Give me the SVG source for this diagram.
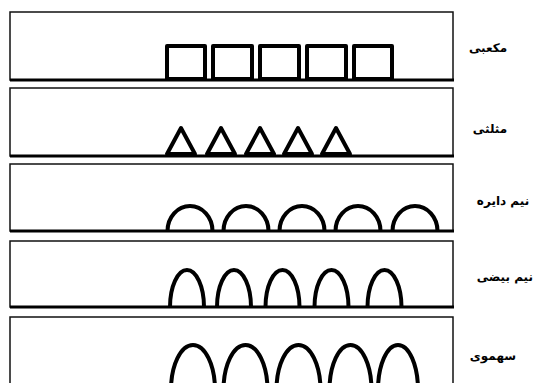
<svg xmlns="http://www.w3.org/2000/svg" width="535" height="383" viewBox="0 0 535 383">
<style>
.box{fill:none;stroke:#111;stroke-width:1.5}
.base{stroke:#000;stroke-width:3}
.sh{fill:none;stroke:#000;stroke-width:4;stroke-linejoin:round}
.lbl{font-family:"DejaVu Sans",sans-serif;font-weight:bold;font-size:12px;fill:#000;text-anchor:middle}
</style>
<rect width="535" height="383" fill="#fff"/>
<g id="row-cubic">
<rect class="box" x="10" y="12" width="443" height="68"/>
<line class="base" x1="10" y1="80" x2="454" y2="80"/>
<rect class="sh" x="167" y="46" width="38" height="33"/>
<rect class="sh" x="213" y="46" width="39" height="33"/>
<rect class="sh" x="260" y="46" width="39" height="33"/>
<rect class="sh" x="307" y="46" width="39" height="33"/>
<rect class="sh" x="354" y="46" width="38" height="33"/>
<text class="lbl" x="488" y="52">مکعبی</text>
</g>
<g id="row-triangular">
<rect class="box" x="10" y="88" width="443" height="68"/>
<line class="base" x1="10" y1="156" x2="454" y2="156"/>
<polygon class="sh" points="167,154 181,128 195,154"/>
<polygon class="sh" points="207,154 221,128 235,154"/>
<polygon class="sh" points="246,154 260,128 274,154"/>
<polygon class="sh" points="284,154 298,128 312,154"/>
<polygon class="sh" points="322,154 336,128 350,154"/>
<text class="lbl" x="490" y="133">مثلثی</text>
</g>
<g id="row-semicircle">
<rect class="box" x="10" y="164" width="443" height="67"/>
<line class="base" x1="10" y1="231" x2="454" y2="231"/>
<path class="sh" d="M167.5 231 A22.5 25 0 0 1 212.5 231"/>
<path class="sh" d="M223.5 231 A22.5 25 0 0 1 268.5 231"/>
<path class="sh" d="M279.5 231 A22.5 25 0 0 1 324.5 231"/>
<path class="sh" d="M335.5 231 A22.5 25 0 0 1 380.5 231"/>
<path class="sh" d="M392.5 231 A22.5 25 0 0 1 437.5 231"/>
<text class="lbl" x="503" y="205">نیم دایره</text>
</g>
<g id="row-semiellipse">
<rect class="box" x="10" y="241" width="443" height="66"/>
<line class="base" x1="10" y1="307" x2="454" y2="307"/>
<path class="sh" d="M170 307 A17 37 0 0 1 204 307"/>
<path class="sh" d="M217 307 A17 37 0 0 1 251 307"/>
<path class="sh" d="M265.5 307 A17 37 0 0 1 299.5 307"/>
<path class="sh" d="M314.5 307 A17 37 0 0 1 348.5 307"/>
<path class="sh" d="M367.5 307 A17 37 0 0 1 401.5 307"/>
<text class="lbl" x="533" y="281" style="text-anchor:end">نیم بیضی</text>
</g>
<g id="row-parabolic">
<rect class="box" x="10" y="317" width="443" height="80"/>
<path class="sh" d="M171 390 A22 45 0 0 1 215 390"/>
<path class="sh" d="M223.5 390 A22 45 0 0 1 267.5 390"/>
<path class="sh" d="M276.5 390 A22 45 0 0 1 320.5 390"/>
<path class="sh" d="M329.5 390 A21 45 0 0 1 371.5 390"/>
<path class="sh" d="M378 390 A20 45 0 0 1 418 390"/>
<text class="lbl" x="493" y="360">سهموی</text>
</g>
</svg>
